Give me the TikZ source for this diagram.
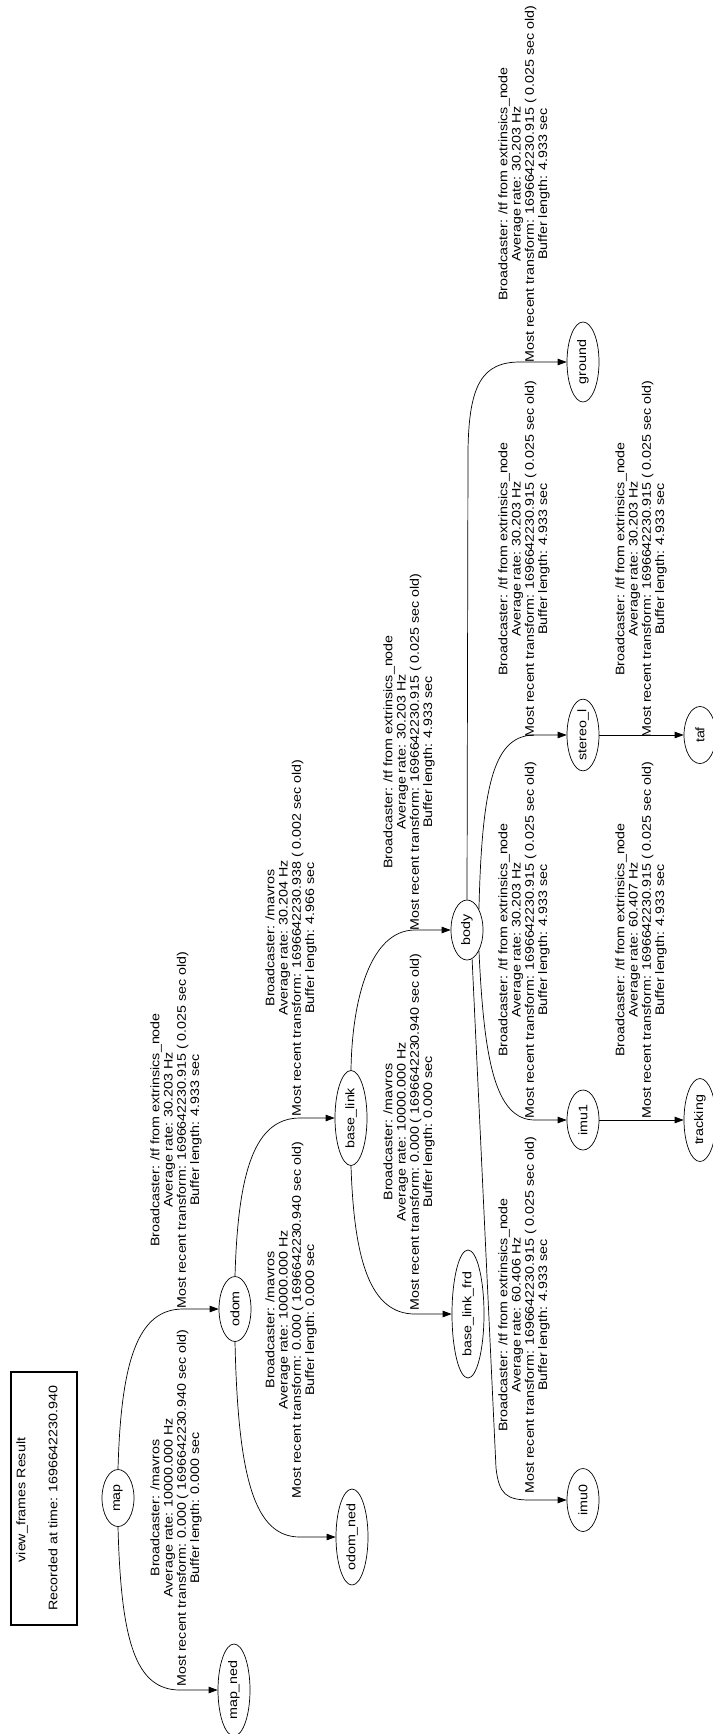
\documentclass[tikz,border=0pt]{standalone}
\usepackage{fontspec}
\setmainfont[FakeStretch=1.15]{Liberation Sans}
\usetikzlibrary{shapes.geometric,arrows.meta}

\begin{document}
\begin{tikzpicture}[x=1pt,y=-1pt,
  txt/.style={font=\fontsize{12.4}{13.3}\selectfont, inner sep=0pt},
  tfnode/.style={ellipse, draw, line width=0.7pt, minimum width=32pt, txt},
  lbl/.style={txt, rotate=90, align=center},
  link/.style={draw, line width=0.7pt, -{Triangle[length=9pt,width=6.5pt]}}
]
\useasboundingbox (0,0) rectangle (712,1734);

% legend cluster
\node[draw, line width=1.5pt, minimum width=66pt, minimum height=253pt, inner sep=0pt] (legend) at (44,1498.5) {};
\node[lbl] (legendtitle) at (22,1500) {view\_frames Result};
\node[lbl] (legendtime) at (53,1498) {Recorded at time: 1696642230.940};

% frames
\node[tfnode, minimum height=57pt] (map) at (118,1498) {\rotatebox{90}{map}};
\node[tfnode, minimum height=92pt] (map_ned) at (234,1690) {\rotatebox{90}{map\_ned}};
\node[tfnode, minimum height=65pt] (odom) at (235,1309) {\rotatebox{90}{odom}};
\node[tfnode, minimum height=96pt] (odom_ned) at (352,1537) {\rotatebox{90}{odom\_ned}};
\node[tfnode, minimum height=95pt] (base_link) at (351,1118) {\rotatebox{90}{base\_link}};
\node[tfnode, minimum height=128pt] (base_link_frd) at (468,1314) {\rotatebox{90}{base\_link\_frd}};
\node[tfnode, minimum height=60pt] (body) at (467,930) {\rotatebox{90}{body}};
\node[tfnode, minimum height=63pt] (imu0) at (583,1500) {\rotatebox{90}{imu0}};
\node[tfnode, minimum height=60pt] (imu1) at (583,1120) {\rotatebox{90}{imu1}};
\node[tfnode, minimum height=60pt] (stereo_l) at (583,735) {\rotatebox{90}{stereo\_l}};
\node[tfnode, minimum height=80pt] (ground) at (583,362) {\rotatebox{90}{ground}};
\node[tfnode, minimum height=83pt] (tracking) at (700,1120) {\rotatebox{90}{tracking}};
\node[tfnode, minimum height=57pt] (taf) at (700,735) {\rotatebox{90}{taf}};

% transforms
\draw[link] (map.north) .. controls (121,1360) and (138,1309) .. (183,1309) -- (odom.west);
\draw[link] (map.south) .. controls (121,1640) and (135,1690) .. (180,1690) -- (map_ned.west);
\draw[link] (odom.north) .. controls (238,1170) and (255,1118) .. (300,1118) -- (base_link.west);
\draw[link] (odom.south) .. controls (238,1480) and (255,1537) .. (300,1537) -- (odom_ned.west);
\draw[link] (base_link.north) .. controls (352,1000) and (370,930) .. (415,930) -- (body.west);
\draw[link] (base_link.south) .. controls (354,1260) and (370,1314) .. (415,1314) -- (base_link_frd.west);
\draw[link] (body.north) -- (468,450) .. controls (469,385) and (482,362) .. (520,362) -- (ground.west);
\draw[link] (body.60) .. controls (482,780) and (495,735) .. (535,735) -- (stereo_l.west);
\draw[link] (body.-60) .. controls (484,1060) and (495,1120) .. (535,1120) -- (imu1.west);
\draw[link] (body.-80) -- (496,1468) .. controls (499,1494) and (506,1500) .. (530,1500) -- (imu0.west);
\draw[link] (stereo_l.east) -- (taf.west);
\draw[link] (imu1.east) -- (tracking.west);

% transform labels
\node[lbl] (l_map_ned) at (176,1508) {Broadcaster: /mavros\\Average rate: 10000.000 Hz\\Most recent transform: 0.000 ( 1696642230.940 sec old)\\Buffer length: 0.000 sec};
\node[lbl] (l_odom) at (176,1130) {Broadcaster: /tf from extrinsics\_node\\Average rate: 30.203 Hz\\Most recent transform: 1696642230.915 ( 0.025 sec old)\\Buffer length: 4.933 sec};
\node[lbl] (l_odom_ned) at (291,1320) {Broadcaster: /mavros\\Average rate: 10000.000 Hz\\Most recent transform: 0.000 ( 1696642230.940 sec old)\\Buffer length: 0.000 sec};
\node[lbl] (l_base_link) at (291,938) {Broadcaster: /mavros\\Average rate: 30.204 Hz\\Most recent transform: 1696642230.938 ( 0.002 sec old)\\Buffer length: 4.966 sec};
\node[lbl] (l_base_link_frd) at (409,1132) {Broadcaster: /mavros\\Average rate: 10000.000 Hz\\Most recent transform: 0.000 ( 1696642230.940 sec old)\\Buffer length: 0.000 sec};
\node[lbl] (l_body) at (409,752) {Broadcaster: /tf from extrinsics\_node\\Average rate: 30.203 Hz\\Most recent transform: 1696642230.915 ( 0.025 sec old)\\Buffer length: 4.933 sec};
\node[lbl] (l_imu0) at (524,1315) {Broadcaster: /tf from extrinsics\_node\\Average rate: 60.406 Hz\\Most recent transform: 1696642230.915 ( 0.025 sec old)\\Buffer length: 4.933 sec};
\node[lbl] (l_imu1) at (524,940) {Broadcaster: /tf from extrinsics\_node\\Average rate: 30.203 Hz\\Most recent transform: 1696642230.915 ( 0.025 sec old)\\Buffer length: 4.933 sec};
\node[lbl] (l_stereo_l) at (524,559) {Broadcaster: /tf from extrinsics\_node\\Average rate: 30.203 Hz\\Most recent transform: 1696642230.915 ( 0.025 sec old)\\Buffer length: 4.933 sec};
\node[lbl] (l_ground) at (524,184) {Broadcaster: /tf from extrinsics\_node\\Average rate: 30.203 Hz\\Most recent transform: 1696642230.915 ( 0.025 sec old)\\Buffer length: 4.933 sec};
\node[lbl] (l_taf) at (641,559) {Broadcaster: /tf from extrinsics\_node\\Average rate: 30.203 Hz\\Most recent transform: 1696642230.915 ( 0.025 sec old)\\Buffer length: 4.933 sec};
\node[lbl] (l_tracking) at (641,940) {Broadcaster: /tf from extrinsics\_node\\Average rate: 60.407 Hz\\Most recent transform: 1696642230.915 ( 0.025 sec old)\\Buffer length: 4.933 sec};
\end{tikzpicture}
\end{document}
